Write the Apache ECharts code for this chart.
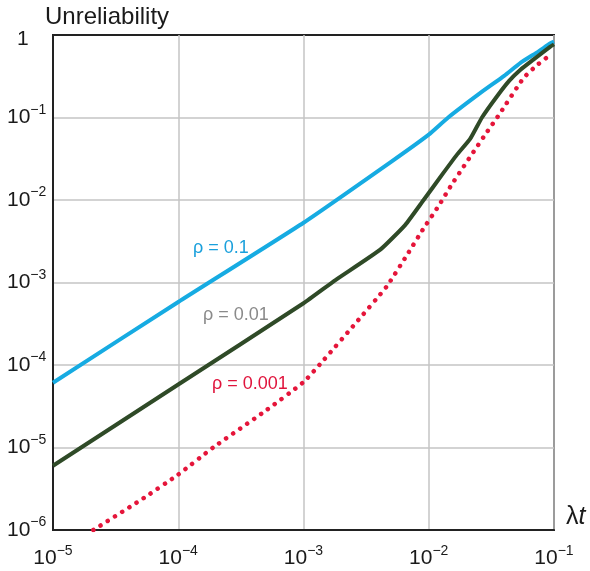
<!DOCTYPE html>
<html><head><meta charset="utf-8">
<script src="https://cdn.jsdelivr.net/npm/echarts@6/dist/echarts.min.js"></script>
<style>html,body{margin:0;padding:0;background:#fff}#c{width:590px;height:571px}</style>
</head><body><div id="c"></div>
<script>
// λt values and unreliability for each ρ
var blueX = [1e-5, 1e-4, 1e-3, 5e-3, 1e-2, 1.43e-2, 2.6e-2, 4e-2, 5.4e-2, 7.5e-2, 9.3e-2, 1e-1];
var blueY = [6.1e-5, 5.8e-4, 5.3e-3, 0.029, 0.062, 0.1, 0.2, 0.32, 0.46, 0.63, 0.79, 0.83];
var greenX = [1e-5, 1e-4, 1e-3, 1.8e-3, 4.1e-3, 6.5e-3, 9.1e-3, 1.3e-2, 1.67e-2, 2.14e-2, 2.66e-2, 3.5e-2, 4.4e-2, 5.4e-2, 6.8e-2, 9.3e-2, 1e-1];
var greenY = [6e-6, 5.8e-5, 5.6e-4, 1.07e-3, 2.5e-3, 5e-3, 1e-2, 2.1e-2, 3.5e-2, 0.055, 0.1, 0.18, 0.28, 0.38, 0.5, 0.72, 0.77];
var redX = [2.1e-5, 5e-5, 1e-4, 1.9e-4, 5e-4, 1e-3, 1.45e-3, 2.6e-3, 4.6e-3, 6.5e-3, 8.9e-3, 1.2e-2, 1.55e-2, 2.8e-2, 3.7e-2, 5.7e-2, 7.3e-2, 9e-2];
var redY = [1e-6, 2.3e-6, 4.7e-6, 1e-5, 2.8e-5, 6.2e-5, 1.15e-4, 3.2e-4, 8.9e-4, 2e-3, 4.3e-3, 8.5e-3, 1.6e-2, 6.1e-2, 0.112, 0.30, 0.43, 0.55];
var seriesNames = ['ρ = 0.1', 'ρ = 0.01', 'ρ = 0.001'];
var yTitle = 'Unreliability';

function pairs(xs, ys) { return xs.map(function (x, i) { return [x, ys[i]]; }); }
function powLabel(v) {
  var e = Math.round(Math.log10(v));
  if (e === 0) return '{one|1}';
  return '{b|10}{s|\u2212' + (-e) + '}';
}
var richLab = {
  b: { fontSize: 21, color: '#1a1a1a', fontFamily: 'Liberation Sans' },
  s: { fontSize: 14, color: '#1a1a1a', fontFamily: 'Liberation Sans', padding: [0, 0, 15, 0] },
  one: { fontSize: 21, color: '#1a1a1a', fontFamily: 'Liberation Sans', padding: [8, 0, 0, 10] }
};

var chart = echarts.init(document.getElementById('c'));
var L = 53, T = 35, R = 554, B = 530;
chart.setOption({
  animation: false,
  grid: { left: L, top: T, width: R - L, height: B - T, show: true, borderColor: '#222', borderWidth: 2, containLabel: false },
  xAxis: {
    type: 'log', logBase: 10, min: 1e-5, max: 1e-1, interval: 1,
    name: '{l|λ}{t|t}', nameLocation: 'end', nameGap: 12,
    nameTextStyle: { verticalAlign: 'bottom', rich: {
      l: { fontSize: 25, color: '#1a1a1a', fontFamily: 'Liberation Sans' },
      t: { fontSize: 25, color: '#1a1a1a', fontFamily: 'Liberation Sans', fontStyle: 'italic' } } },
    axisLine: { show: true, lineStyle: { color: '#222', width: 2 } },
    axisTick: { show: false },
    splitLine: { show: true, showMinLine: false, showMaxLine: false, lineStyle: { color: '#c4c4c4', width: 1.5 } },
    axisLabel: { margin: 14, formatter: powLabel, rich: richLab }
  },
  yAxis: {
    type: 'log', logBase: 10, min: 1e-6, max: 1, interval: 1,
    name: yTitle, nameLocation: 'end', nameGap: 6,
    nameTextStyle: { fontSize: 24, color: '#1a1a1a', fontFamily: 'Liberation Sans', align: 'left', padding: [0, 0, 0, -8] },
    axisLine: { show: true, lineStyle: { color: '#222', width: 2 } },
    axisTick: { show: false },
    splitLine: { show: true, showMinLine: false, showMaxLine: false, lineStyle: { color: '#c4c4c4', width: 1.5 } },
    axisLabel: { margin: 46, align: 'left', formatter: powLabel, rich: richLab }
  },
  series: [
    { name: seriesNames[0], type: 'line', data: pairs(blueX, blueY), smooth: 0.15, showSymbol: false, clip: true,
      lineStyle: { color: '#16abe2', width: 4, join: 'round' } },
    { name: seriesNames[1], type: 'line', data: pairs(greenX, greenY), smooth: 0.15, showSymbol: false, clip: true,
      lineStyle: { color: '#2f4a27', width: 4, join: 'round' } },
    { name: seriesNames[2], type: 'line', data: pairs(redX, redY), smooth: 0.15, showSymbol: false, clip: true,
      lineStyle: { color: '#e5153a', width: 4.5, type: [0.1, 8.4], cap: 'round' } }
  ],
  graphic: [
    { type: 'text', left: 193, top: 239, style: { text: seriesNames[0], fontSize: 18, fill: '#1aa0dc', fontFamily: 'Liberation Sans' } },
    { type: 'text', left: 203, top: 306, style: { text: seriesNames[1], fontSize: 18, fill: '#8a8a8a', fontFamily: 'Liberation Sans' } },
    { type: 'text', left: 212, top: 375, style: { text: seriesNames[2], fontSize: 18, fill: '#e0143c', fontFamily: 'Liberation Sans' } }
  ]
});
</script></body></html>
